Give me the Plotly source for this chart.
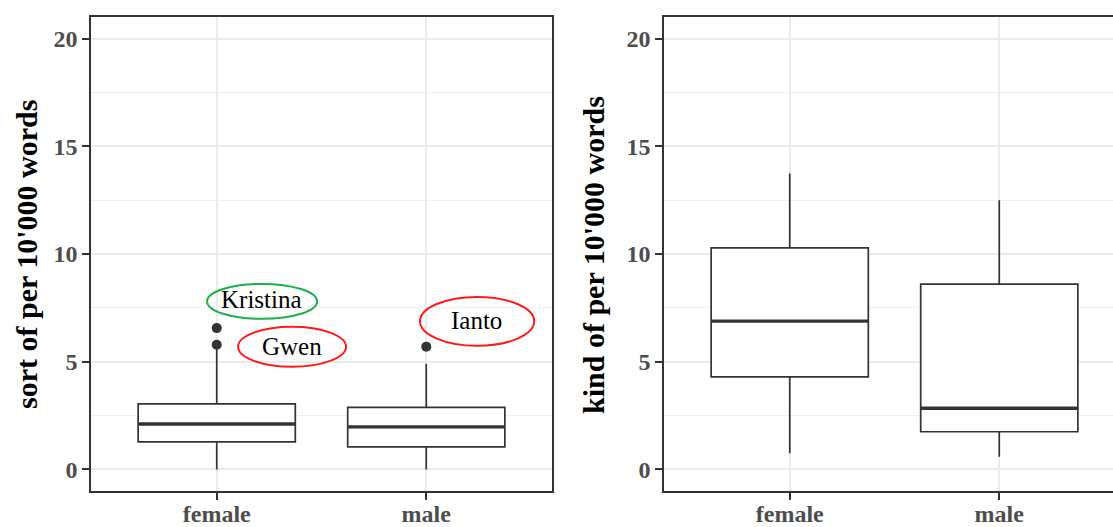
import plotly.graph_objects as go

# Five-number summaries per gender, per 10'000 words
genders = ["female", "male"]
gender_pos = [1, 2]

sort_q1 = [1.28, 1.05]
sort_median = [2.11, 1.98]
sort_q3 = [3.04, 2.88]
sort_lower = [0.0, 0.0]
sort_upper = [5.6, 4.91]
sort_outlier_x = [1, 1, 2]
sort_outlier_y = [6.56, 5.79, 5.70]

kind_q1 = [4.30, 1.75]
kind_median = [6.88, 2.84]
kind_q3 = [10.28, 8.60]
kind_lower = [0.75, 0.59]
kind_upper = [13.74, 12.50]

y_ticks = [0, 5, 10, 15, 20]

W, H = 1113, 527
BOX_W = 0.75
INK = "#333333"
SERIF = "Liberation Serif"

fig = go.Figure()


def add_panel(xa, ya, q1, med, q3, lo, hi):
    fig.add_trace(go.Box(
        x=gender_pos, q1=q1, median=med, q3=q3, lowerfence=lo, upperfence=hi,
        width=BOX_W, whiskerwidth=0, boxpoints=False,
        fillcolor="white", line=dict(color=INK, width=1.7),
        xaxis=xa, yaxis=ya, showlegend=False, hoverinfo="skip"))
    # heavier median bar
    for xp, m in zip(gender_pos, med):
        fig.add_trace(go.Scatter(
            x=[xp - BOX_W / 2, xp + BOX_W / 2], y=[m, m], mode="lines",
            line=dict(color=INK, width=3.3), xaxis=xa, yaxis=ya,
            showlegend=False, hoverinfo="skip"))


add_panel("x", "y", sort_q1, sort_median, sort_q3, sort_lower, sort_upper)
add_panel("x2", "y2", kind_q1, kind_median, kind_q3, kind_lower, kind_upper)

fig.add_trace(go.Scatter(
    x=sort_outlier_x, y=sort_outlier_y, mode="markers",
    marker=dict(color=INK, size=10), xaxis="x", yaxis="y",
    showlegend=False, hoverinfo="skip"))


def px_x(p):
    return p / W


def px_y(p):
    return 1 - p / H


axis_common = dict(
    showline=True, linecolor=INK, linewidth=1.5,
    ticks="outside", ticklen=7, tickcolor=INK, tickwidth=1.5,
    tickfont=dict(family=SERIF, size=24, color="#4D4D4D", weight="bold"),
    showgrid=True, gridcolor="#EBEBEB", gridwidth=1.5, zeroline=False,
    fixedrange=True, automargin=False,
)

x_common = dict(axis_common, tickvals=gender_pos, ticktext=genders,
                ticklabelstandoff=-7)
y_common = dict(
    axis_common, range=[-1, 21], tickvals=y_ticks,
    minor=dict(dtick=2.5, tick0=0, showgrid=True, gridcolor="#F0F0F0",
               gridwidth=1, ticks=""),
)

fig.update_layout(
    width=W, height=H,
    margin=dict(l=0, r=0, t=0, b=0, autoexpand=False),
    paper_bgcolor="white", plot_bgcolor="white",
    xaxis=dict(x_common, domain=[px_x(91), px_x(552)], range=[0.4, 2.6],
               mirror=True, anchor="y"),
    yaxis=dict(y_common, domain=[px_y(491), px_y(17)], mirror=True, anchor="x"),
    xaxis2=dict(x_common, domain=[px_x(664), 1.0],
                range=[0.4, 0.4 + (W - 664) / (461 / 2.2)],
                mirror=True, anchor="y2"),
    yaxis2=dict(y_common, domain=[px_y(491), px_y(17)], mirror=False,
                anchor="x2"),
)

# axis titles
for xc, label in [(26, "sort of per 10'000 words"),
                  (593, "kind of per 10'000 words")]:
    fig.add_annotation(
        x=px_x(xc), y=px_y(255), xref="paper", yref="paper",
        text=label, textangle=-90, showarrow=False,
        xanchor="center", yanchor="middle",
        font=dict(family=SERIF, size=30, color="black", weight="bold"))

# labelled speakers
callouts = [
    ("Kristina", 1.216, 7.87, (0.954, 6.99, 1.479, 8.61), "#1DB04B"),
    ("Gwen", 1.36, 5.69, (1.102, 4.77, 1.617, 6.62), "#FF1A1A"),
    ("Ianto", 2.24, 6.90, (1.970, 5.74, 2.515, 8.01), "#FF1A1A"),
]
for text, tx, ty, (x0, y0, x1, y1), col in callouts:
    fig.add_shape(type="circle", xref="x", yref="y", x0=x0, y0=y0,
                  x1=x1, y1=y1, line=dict(color=col, width=2))
    fig.add_annotation(x=tx, y=ty, xref="x", yref="y", text=text,
                       showarrow=False,
                       font=dict(family=SERIF, size=25, color="black"))

fig.write_html("out.html")
